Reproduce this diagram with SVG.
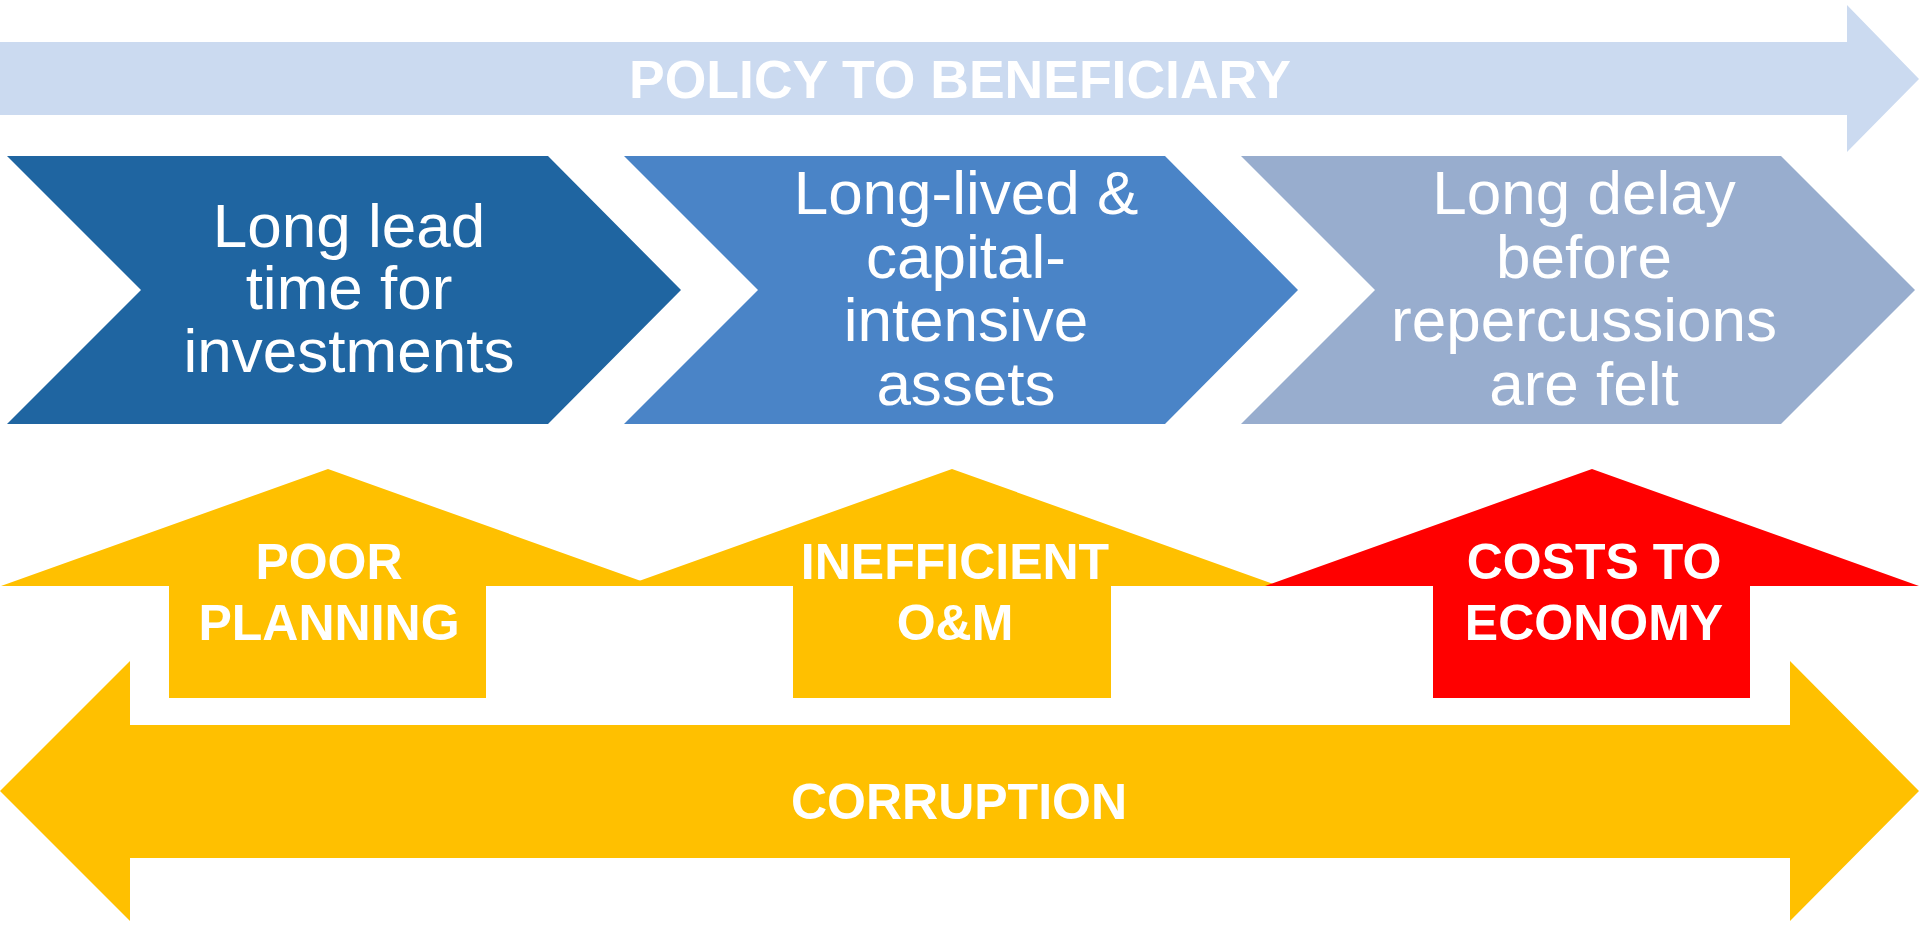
<svg xmlns="http://www.w3.org/2000/svg" width="1920" height="928" viewBox="0 0 1920 928">
<style>
.t{font-family:"Liberation Sans",Arial,sans-serif;fill:#FFFFFF;text-anchor:middle}
.r{font-size:62px}
.b{font-weight:bold;font-size:50px}
</style>
<rect width="1920" height="928" fill="#FFFFFF"/>
<g id="banner">
<path d="M0,42 L1847,42 L1847,5 L1919,79 L1847,152 L1847,115 L0,115 Z" fill="#CBDAF0"/>
<text class="t" x="960" y="98" style="font-weight:bold;font-size:53.5px">POLICY TO BENEFICIARY</text>
</g>
<g id="chevron1">
<path d="M7,156 L548,156 L681,290 L548,424 L7,424 L141,290 Z" fill="#1F65A1"/>
<text class="t r" x="349"><tspan x="349" y="246.7">Long lead</tspan><tspan x="349" y="309.3">time for</tspan><tspan x="349" y="372.3">investments</tspan></text>
</g>
<g id="chevron2">
<path d="M624,156 L1165,156 L1298,290 L1165,424 L624,424 L758,290 Z" fill="#4A84C7"/>
<text class="t r" x="966"><tspan x="966" y="214.3">Long-lived &amp;</tspan><tspan x="966" y="277.7">capital-</tspan><tspan x="966" y="340.7">intensive</tspan><tspan x="966" y="404.5">assets</tspan></text>
</g>
<g id="chevron3">
<path d="M1241,156 L1781,156 L1915,290 L1781,424 L1241,424 L1375,290 Z" fill="#98ADCE"/>
<text class="t r" x="1584"><tspan x="1584" y="214.3">Long delay</tspan><tspan x="1584" y="277.7">before</tspan><tspan x="1584" y="340.7">repercussions</tspan><tspan x="1584" y="404.5">are felt</tspan></text>
</g>
<g id="poor-planning">
<path d="M328,469 L655,586 L486,586 L486,698 L169,698 L169,586 L1,586 Z" fill="#FFC000"/>
<text class="t b"><tspan x="329" y="579">POOR</tspan><tspan x="329" y="640">PLANNING</tspan></text>
</g>
<g id="inefficient-om">
<path d="M952,469 L1279,586 L1111,586 L1111,698 L793,698 L793,586 L625,586 Z" fill="#FFC000"/>
<text class="t b"><tspan x="955" y="579">INEFFICIENT</tspan><tspan x="955" y="640">O&amp;M</tspan></text>
</g>
<g id="costs-to-economy">
<path d="M1592,469 L1919,586 L1750,586 L1750,698 L1433,698 L1433,586 L1265,586 Z" fill="#FF0000"/>
<text class="t b"><tspan x="1594" y="579">COSTS TO</tspan><tspan x="1594" y="640">ECONOMY</tspan></text>
</g>
<g id="corruption">
<path d="M0,791 L130,661 L130,725 L1790,725 L1790,661 L1919,791 L1790,921 L1790,858 L130,858 L130,921 Z" fill="#FFC000"/>
<text class="t b" x="959" y="819">CORRUPTION</text>
</g>
<g id="connectors"></g>
</svg>
